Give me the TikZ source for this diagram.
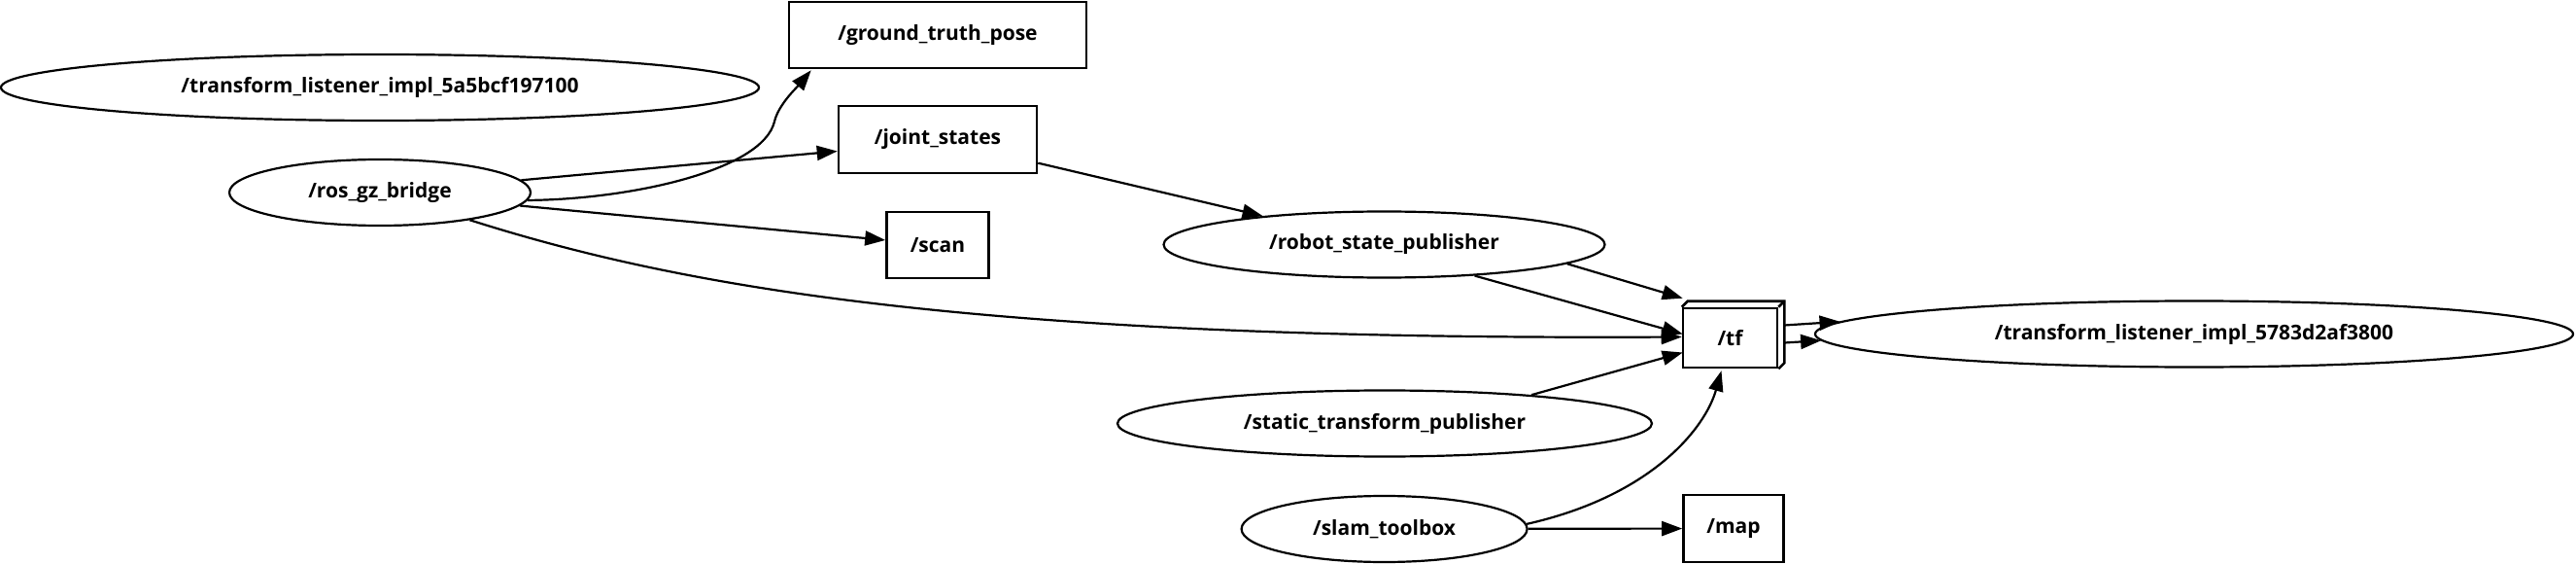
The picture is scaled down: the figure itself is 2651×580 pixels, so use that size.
\documentclass[tikz,border=0pt]{standalone}
\usepackage{fontspec}
\setmainfont{Open Sans}
\usetikzlibrary{shapes.geometric,arrows.meta,calc}
\begin{document}
\begin{tikzpicture}[x=1pt,y=-1pt,
  every node/.style={font=\fontsize{21}{24}\selectfont\bfseries, inner sep=0pt},
  topicbox/.style={draw, rectangle, line width=2.6pt},
  nodeell/.style={draw, ellipse, line width=2.2pt},
  edge/.style={line width=2.2pt, -{Triangle[length=21pt,width=15pt]}}]
\useasboundingbox (0,0) rectangle (2651,580);
% nodes
\node[nodeell, minimum width=780, minimum height=68] (tlA) at (391,90) {/transform\_listener\_impl\_5a5bcf197100};
\node[nodeell, minimum width=310, minimum height=68] (rgb) at (391,198) {/ros\_gz\_bridge};
\node[topicbox, minimum width=306, minimum height=68] (gtp) at (965,36) {/ground\_truth\_pose};
\node[topicbox, minimum width=204, minimum height=69] (js) at (965,143.5) {/joint\_states};
\node[topicbox, minimum width=105, minimum height=68] (scan) at (965,252) {/scan};
\node[nodeell, minimum width=454, minimum height=68] (rsp) at (1424.5,251.5) {/robot\_state\_publisher};
\node[topicbox, minimum width=97, minimum height=61] (tf) at (1780.5,347.5) {/tf};
\draw[line width=2.6pt, line join=miter] (tf.north west) -- ++(6,-6) -- ($(tf.north east)+(6,-6)$) -- ($(tf.south east)+(6,-6)$) -- (tf.south east);
\draw[line width=2.6pt] (tf.north east) -- ++(6,-6);
\node[nodeell, minimum width=550, minimum height=68] (stp) at (1425,435.5) {/static\_transform\_publisher};
\node[nodeell, minimum width=294, minimum height=68] (slam) at (1424.6,544) {/slam\_toolbox};
\node[topicbox, minimum width=103, minimum height=69] (map) at (1784,543.5) {/map};
\node[nodeell, minimum width=780, minimum height=68] (tlB) at (2258,343.5) {/transform\_listener\_impl\_5783d2af3800};
% edges
\draw[edge] (rgb.-3.9) .. controls (650,205) and (785,175) .. (797,125)
  .. controls (801,108) and (819,91) .. ($(gtp.south west)+(24,1)$);
\draw[edge] (rgb.5.9) -- ($(js.west)+(0,12)$);
\draw[edge] (rgb) -- (scan);
\draw[edge] (rgb.-17.3) .. controls (700,295) and (1000,350) .. ($(tf.west)+(0,-1)$);
\draw[edge] (js) -- (rsp);
\draw[edge] (rsp.-6.7) -- ($(tf.north west)+(1,-9)$);
\draw[edge] (rsp.-19.6) -- ($(tf.west)+(1,-4)$);
\draw[edge] (stp.11.9) -- ($(tf.west)+(1,15)$);
\draw[edge] (slam.2.3) .. controls (1700,510) and (1755,440) .. ($(tf.south)+(-9,2)$);
\draw[edge] (slam) -- (map);
\draw[edge] ($(tf.east)+(6,-13)$) -- (tlB.178.4);
\draw[edge] ($(tf.east)+(6,5)$) -- (tlB.181.6);
\end{tikzpicture}
\end{document}
